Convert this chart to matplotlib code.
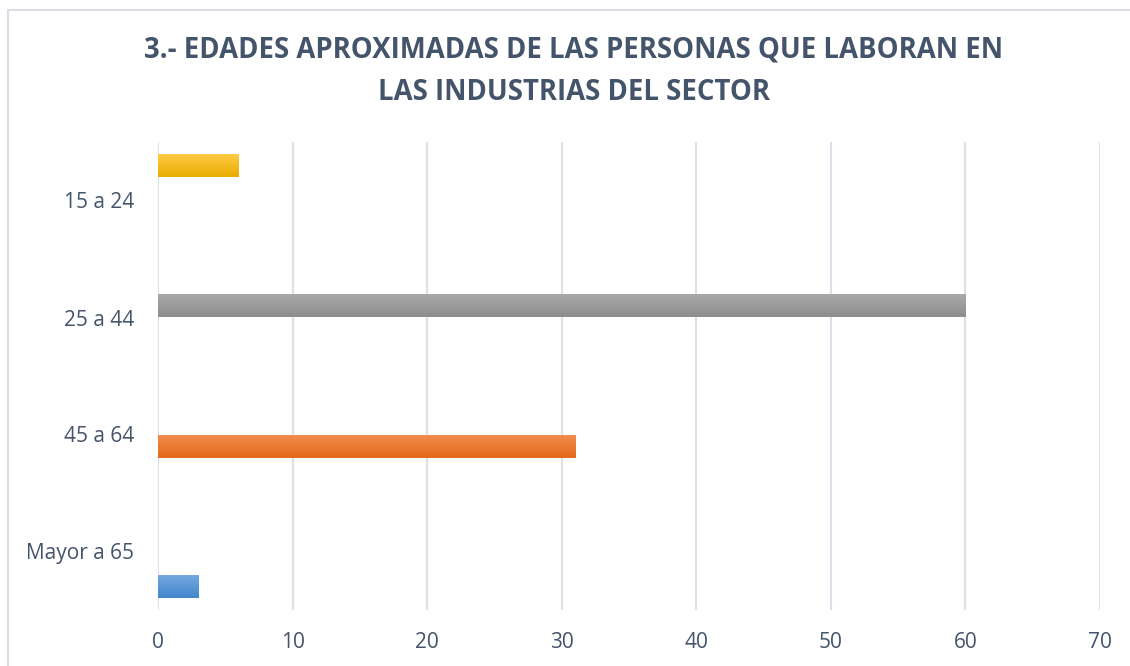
import matplotlib
matplotlib.use("Agg")
import matplotlib.pyplot as plt
import numpy as np
from matplotlib.colors import LinearSegmentedColormap
from matplotlib.patches import Rectangle

# categories from bottom to top, as Excel draws them
categories = ['Mayor a 65', '45 a 64', '25 a 44', '15 a 24']
# one series per age group, each only filled in its own category
series_values = [3, 31, 60, 6]
x_ticks = [0, 10, 20, 30, 40, 50, 60, 70]
title = '3.- EDADES APROXIMADAS DE LAS PERSONAS QUE LABORAN EN\nLAS INDUSTRIAS DEL SECTOR'

# (top, bottom) gradient colours per series
grad_colors = [('#72A9E0', '#4485CA'),
               ('#F28C4E', '#E5691A'),
               ('#A9A9A9', '#8E8E8E'),
               ('#FFCB45', '#E8AC00')]

text_color = '#44546A'
grid_color = '#DCE0E8'

plt.rcParams['font.family'] = ['Open Sans', 'DejaVu Sans']

fig = plt.figure(figsize=(11.3, 6.66), dpi=100)
ax = fig.add_axes([158 / 1130, 1 - 610 / 666, (1100 - 158) / 1130, (610 - 142) / 666])

slot = 0.2
bar_h = 0.195
y = np.arange(len(categories))
grad = np.linspace(0, 1, 64).reshape(-1, 1)

for i, val in enumerate(series_values):
    vals = np.zeros(len(categories))
    vals[i] = val
    bars = ax.barh(y + (i - 1.5) * slot, vals, height=bar_h,
                   color=grad_colors[i][1], zorder=3)
    cmap = LinearSegmentedColormap.from_list('g%d' % i, grad_colors[i])
    for b in bars:
        if b.get_width() == 0:
            continue
        x0, y0 = b.get_x(), b.get_y()
        im = ax.imshow(grad, cmap=cmap, aspect='auto', origin='upper',
                       extent=[x0, x0 + b.get_width(), y0, y0 + b.get_height()],
                       zorder=4)
        im.set_clip_path(b)

ax.set_xlim(0, 70)
ax.set_ylim(-0.5, 3.5)
ax.set_xticks(x_ticks)
ax.set_yticks(y)
ax.set_yticklabels(categories)
ax.tick_params(axis='both', length=0, labelsize=15, colors=text_color)
ax.tick_params(axis='x', pad=16)
ax.tick_params(axis='y', pad=17)
ax.grid(axis='x', color=grid_color, linewidth=1.5, zorder=0)
ax.set_axisbelow(True)
for s in ax.spines.values():
    s.set_visible(False)

fig.text(0.508, 1 - 71 / 666, title, ha='center', va='center',
         fontsize=19.8, fontweight='bold', color=text_color, linespacing=1.6)

# chart border, only top and left edges fall inside the picture
fig.patches.append(Rectangle((8 / 1130, -0.1), 1.1, 1 - 10 / 666 + 0.1,
                             transform=fig.transFigure, fill=False,
                             edgecolor='#D9DDE4', linewidth=1.5))

fig.savefig('out.png', dpi=100)
